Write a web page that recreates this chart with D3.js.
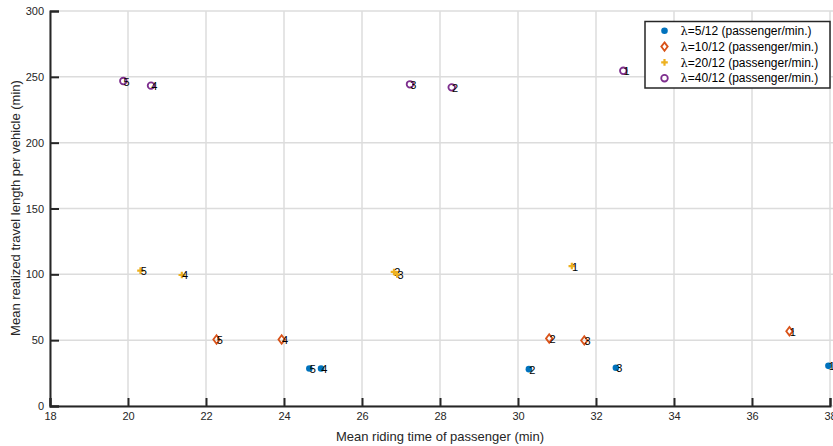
<!DOCTYPE html>
<html><head><meta charset="utf-8">
<script src="https://cdn.jsdelivr.net/npm/d3@7"></script>
<style>
body{margin:0;background:#fff;}
svg{display:block;font-family:"Liberation Sans",Arial,Helvetica,sans-serif;}
</style></head>
<body><svg id="c" width="833" height="446"></svg>
<script>
// Data: [x (mean riding time), y (mean travel length), label]
const seriesNames = ["λ=5/12 (passenger/min.)","λ=10/12 (passenger/min.)","λ=20/12 (passenger/min.)","λ=40/12 (passenger/min.)"];
const lambda5  = [[37.96,30.5,"1"],[30.28,28.0,"2"],[32.51,29.0,"3"],[24.95,28.5,"4"],[24.65,28.5,"5"]];
const lambda10 = [[36.96,56.8,"1"],[30.80,51.3,"2"],[31.70,49.8,"3"],[23.94,50.5,"4"],[22.27,50.5,"5"]];
const lambda20 = [[31.38,106.3,"1"],[26.82,101.8,"2"],[26.90,100.0,"3"],[21.38,99.5,"4"],[20.32,102.8,"5"]];
const lambda40 = [[32.70,254.6,"1"],[28.30,242.0,"2"],[27.23,244.3,"3"],[20.59,243.3,"4"],[19.88,246.8,"5"]];
const xTicks = [18,20,22,24,26,28,30,32,34,36,38];
const yTicks = [0,50,100,150,200,250,300];
const colors = ["#0072BD","#D95319","#EDB120","#7E2F8E"];

const svg = d3.select("#c");
const L=50, R=830, T=11, B=406;
const x = d3.scaleLinear().domain([18,38]).range([L,R]);
const y = d3.scaleLinear().domain([0,300]).range([B,T]);
const axisCol="#262626";

// grid
svg.append("g").selectAll("line").data(xTicks).join("line")
  .attr("x1",d=>x(d)).attr("x2",d=>x(d)).attr("y1",T).attr("y2",B)
  .attr("stroke","#dcdcdc").attr("stroke-width",1.5);
svg.append("g").selectAll("line").data(yTicks).join("line")
  .attr("x1",L).attr("x2",R+3).attr("y1",d=>y(d)).attr("y2",d=>y(d))
  .attr("stroke","#dcdcdc").attr("stroke-width",1.5);

// axes
const xa = svg.append("g").attr("transform",`translate(0,${B})`)
  .call(d3.axisBottom(x).tickValues(xTicks).tickSize(-8).tickPadding(14).tickFormat(d3.format("d")));
const ya = svg.append("g").attr("transform",`translate(${L},0)`)
  .call(d3.axisLeft(y).tickValues(yTicks).tickSize(-9).tickPadding(6).tickFormat(d3.format("d")));
[xa,ya].forEach(a=>{
  a.select(".domain").attr("stroke",axisCol).attr("stroke-width",2);
  a.selectAll(".tick line").attr("stroke",axisCol).attr("stroke-width",2);
  a.selectAll(".tick text").attr("fill",axisCol).style("font-size","11px");
});
xa.selectAll(".tick text").attr("dy","0");

svg.append("text").attr("x",440).attr("y",441).attr("text-anchor","middle")
  .attr("fill",axisCol).style("font-size","13px").text("Mean riding time of passenger (min)");
svg.append("text").attr("transform","translate(20,208) rotate(-90)").attr("text-anchor","middle")
  .attr("fill",axisCol).style("font-size","13px").text("Mean realized travel length per vehicle (min)");

// markers
function marker(g, i, cx, cy, s){
  s = s||1;
  if(i===0){
    g.append("circle").attr("cx",cx).attr("cy",cy).attr("r",3.3*s).attr("fill",colors[0]);
  } else if(i===1){
    const h=4.2*s, w=3.2*s;
    g.append("path").attr("d",`M${cx},${cy-h}L${cx+w},${cy}L${cx},${cy+h}L${cx-w},${cy}Z`)
      .attr("fill","none").attr("stroke",colors[1]).attr("stroke-width",1.8);
  } else if(i===2){
    const a=3.3*s;
    g.append("path").attr("d",`M${cx-a},${cy}L${cx+a},${cy}M${cx},${cy-a}L${cx},${cy+a}`)
      .attr("stroke",colors[2]).attr("stroke-width",2.2);
  } else {
    g.append("circle").attr("cx",cx).attr("cy",cy).attr("r",3.3*s)
      .attr("fill","none").attr("stroke",colors[3]).attr("stroke-width",1.8);
  }
}

const all=[lambda5,lambda10,lambda20,lambda40];
const pg = svg.append("g");
all.forEach((ser,i)=>{
  ser.forEach(p=>{
    const cx=x(p[0]), cy=y(p[1]);
    marker(pg,i,cx,cy);
    pg.append("text").attr("x",cx+0.3).attr("y",cy+4.5).attr("fill","#000")
      .style("font-size","11px").text(p[2]);
  });
});

// legend
const lg = svg.append("g");
lg.append("rect").attr("x",645).attr("y",21.5).attr("width",185).attr("height",66.5)
  .attr("fill","#fff").attr("stroke","#262626").attr("stroke-width",1.5);
seriesNames.forEach((n,i)=>{
  const ly = 30.8 + i*15.8;
  marker(lg,i,664.5,ly,1);
  const t = lg.append("text").attr("x",680.5).attr("y",ly+4.2).attr("fill","#000").style("font-size","12px");
  t.append("tspan").style("font-family","'DejaVu Serif','Liberation Serif',serif").style("font-size","11.5px").text("λ");
  t.append("tspan").text(n.slice(1));
});
</script></body></html>
